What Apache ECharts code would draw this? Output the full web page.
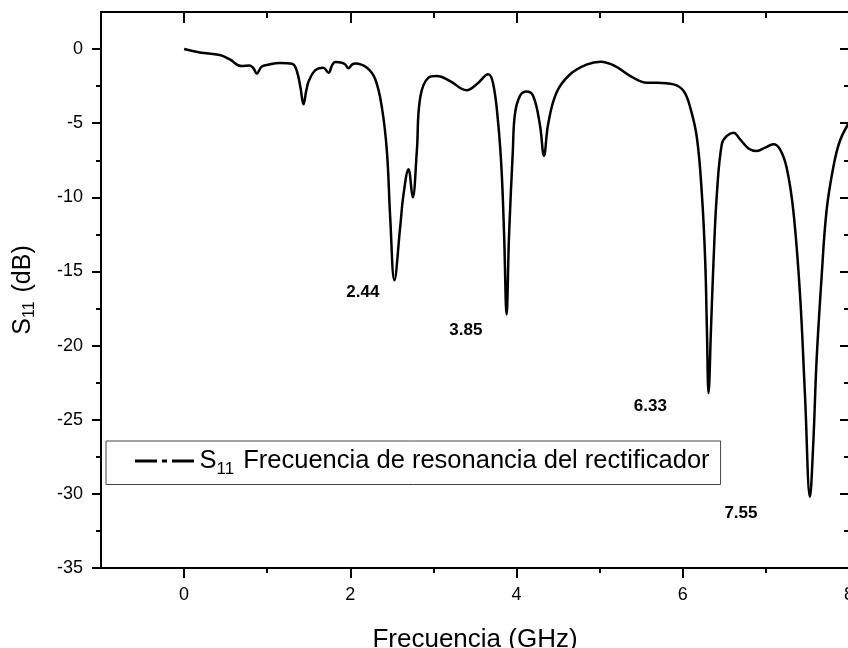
<!DOCTYPE html>
<html>
<head>
<meta charset="utf-8">
<script src="https://cdn.jsdelivr.net/npm/echarts@6/dist/echarts.min.js"></script>
<style>
  html, body { margin: 0; padding: 0; background: #fff; }
  #chart { width: 848px; height: 648px; }
</style>
</head>
<body>
<div id="chart"></div>
<script>
// S11 trace
const freq = [0, 0.19, 0.43, 0.55, 0.69, 0.79, 0.835, 0.875, 0.93, 0.995, 1.155, 1.30, 1.356, 1.40, 1.436, 1.47, 1.50, 1.576, 1.676, 1.737, 1.78, 1.817, 1.897, 1.94, 1.977, 2.02, 2.06, 2.20, 2.30, 2.38, 2.44, 2.48, 2.53, 2.60, 2.64, 2.70, 2.75, 2.80, 2.84, 2.94, 3.04, 3.20, 3.40, 3.52, 3.66, 3.72, 3.78, 3.82, 3.85, 3.88, 3.91, 3.955, 3.98, 4.04, 4.12, 4.20, 4.28, 4.33, 4.38, 4.48, 4.645, 4.85, 5.01, 5.17, 5.37, 5.57, 5.69, 5.89, 6.01, 6.09, 6.17, 6.23, 6.27, 6.29, 6.31, 6.34, 6.37, 6.41, 6.47, 6.53, 6.61, 6.69, 6.79, 6.89, 6.99, 7.09, 7.17, 7.25, 7.33, 7.41, 7.47, 7.53, 7.57, 7.61, 7.67, 7.73, 7.81, 7.89, 8.0];
const s11 = [0, -0.23, -0.4, -0.7, -1.15, -1.1, -1.3, -1.66, -1.2, -1.08, -0.94, -0.99, -1.48, -2.6, -3.73, -2.8, -2.16, -1.44, -1.26, -1.6, -1.1, -0.88, -0.92, -1.05, -1.3, -1.05, -0.97, -1.26, -2.04, -3.95, -6.9, -11.4, -15.6, -12.0, -9.8, -8.1, -10.0, -6.9, -3.3, -1.93, -1.82, -2.16, -2.78, -2.38, -1.7, -2.38, -5.07, -8.2, -12.5, -17.9, -12.5, -6.9, -4.4, -3.17, -2.87, -3.17, -5.07, -7.2, -5.07, -2.94, -1.7, -1.03, -0.85, -1.1, -1.82, -2.27, -2.27, -2.38, -2.83, -3.95, -5.98, -9.8, -14.3, -18.8, -23.2, -18.8, -14.3, -9.8, -6.4, -5.86, -5.64, -6.09, -6.7, -6.87, -6.65, -6.42, -6.76, -8.0, -10.9, -16.5, -23.3, -30.2, -26.6, -21.0, -15.4, -10.9, -8.0, -6.2, -4.97];

// resonance annotations (text + anchor in data units)
const peakText = ['2.44', '3.85', '6.33', '7.55'];
const peakAtX = [2.15, 3.39, 5.61, 6.70];
const peakAtY = [-16.4, -19.0, -24.1, -31.3];

const xMajor = [0, 2, 4, 6, 8];
const xMinor = [1, 3, 5, 7];
const yMajor = [-35, -30, -25, -20, -15, -10, -5, 0];
const yMinor = [-32.5, -27.5, -22.5, -17.5, -12.5, -7.5, -2.5];

const seriesName = 'S11 Frecuencia de resonancia del rectificador';
const FONT = '"Liberation Sans", Arial, sans-serif';
// dash - dot - dash sample used in the legend box
const DASH_DOT = 'path://M0,0h22v3h-22z M27,0h5v3h-5z M37,0h22v3h-22z';

function axisBase(range, position, ticks, len, inside, withLine, withLabels) {
  return {
    type: 'value',
    position: position,
    min: range[0],
    max: range[1],
    splitLine: { show: false },
    axisLine: { show: withLine, onZero: false, lineStyle: { color: '#000', width: 2 } },
    axisTick: {
      show: true, inside: inside, length: len, customValues: ticks,
      lineStyle: { color: '#000', width: 2 }
    },
    axisLabel: withLabels
      ? { show: true, customValues: ticks, color: '#000', fontSize: 18, fontFamily: FONT, margin: 18 }
      : { show: false }
  };
}

const xr = [-1, 8];
const yr = [-35, 2.5];

const xAxes = [
  Object.assign(axisBase(xr, 'bottom', xMajor, 10, false, true, true), {
    name: 'Frecuencia (GHz)', nameLocation: 'middle', nameGap: 59,
    nameTextStyle: { color: '#000', fontSize: 26, fontFamily: FONT }
  }),
  axisBase(xr, 'bottom', xMinor, 5, false, false, false),
  axisBase(xr, 'top', xMajor, 11, true, true, false),
  axisBase(xr, 'top', xMinor, 6, true, false, false)
];

const yAxes = [
  Object.assign(axisBase(yr, 'left', yMajor, 9, false, true, true), {
    name: '{s|S}{sub|11}{s| (dB)}', nameLocation: 'middle', nameGap: 63, nameRotate: 90,
    nameTextStyle: {
      color: '#000', fontFamily: FONT,
      rich: {
        s: { fontSize: 25, fontFamily: FONT, color: '#000' },
        sub: { fontSize: 16, fontFamily: FONT, color: '#000', verticalAlign: 'bottom', padding: [14, 2, 0, 0] }
      }
    }
  }),
  axisBase(yr, 'left', yMinor, 5, false, false, false),
  axisBase(yr, 'right', yMajor, 9, true, true, false),
  axisBase(yr, 'right', yMinor, 5, true, false, false)
];

const chart = echarts.init(document.getElementById('chart'), null, { renderer: 'canvas' });

chart.setOption({
  backgroundColor: '#fff',
  animation: false,
  grid: { left: 101, right: -1, top: 12, bottom: 80, outerBoundsMode: 'none', containLabel: false },
  xAxis: xAxes,
  yAxis: yAxes,
  legend: {
    data: [{ name: seriesName, icon: DASH_DOT }],
    left: 106, top: 441,
    padding: [7, 11, 7, 29],
    borderColor: '#444', borderWidth: 1,
    itemWidth: 60, itemHeight: 3,
    itemStyle: { color: '#000' },
    formatter: () => '{s|S}{sub|11}{s| Frecuencia de resonancia del rectificador}',
    textStyle: {
      color: '#000', fontFamily: FONT, fontSize: 25.5,
      rich: {
        s: { fontSize: 25.5, fontFamily: FONT, color: '#000' },
        sub: { fontSize: 17, fontFamily: FONT, color: '#000', verticalAlign: 'bottom', padding: [16, 2, 0, 0] }
      }
    }
  },
  series: [
    {
      name: seriesName,
      type: 'line',
      xAxisIndex: 0, yAxisIndex: 0,
      data: freq.map((f, i) => [f, s11[i]]),
      showSymbol: false,
      symbol: 'none',
      smooth: 0.4,
      lineStyle: { color: '#000', width: 2.5 },
      itemStyle: { color: '#000' }
    },
    {
      name: 'peaks',
      type: 'scatter',
      xAxisIndex: 0, yAxisIndex: 0,
      symbolSize: 1,
      itemStyle: { color: 'rgba(0,0,0,0)', opacity: 1 },
      silent: true,
      data: peakText.map((t, i) => ({ value: [peakAtX[i], peakAtY[i]], name: t })),
      label: {
        show: true, position: 'inside', formatter: p => p.name,
        color: '#000', fontSize: 17, fontWeight: 'bold', fontFamily: FONT
      }
    }
  ]
});
</script>
</body>
</html>
